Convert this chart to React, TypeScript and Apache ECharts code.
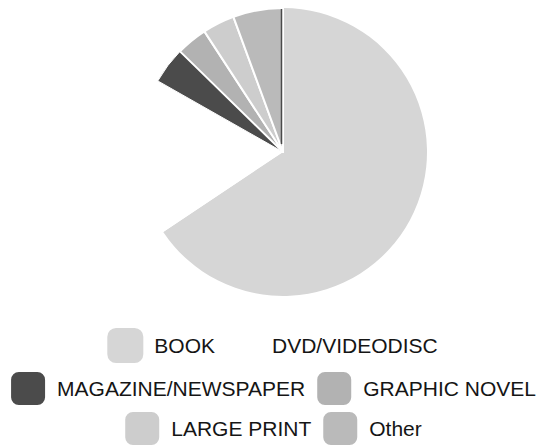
import React, { useEffect, useRef } from "react";
import * as echarts from "echarts";

const categories = ["BOOK", "DVD/VIDEODISC", "MAGAZINE/NEWSPAPER", "GRAPHIC NOVEL", "LARGE PRINT", "Other"];
const values = [657, 176, 41, 35, 36, 56];
const colors = ["#d6d6d6", "#ffffff", "#4b4b4b", "#b2b2b2", "#cdcdcd", "#bababa"];
const legendRows = [
  ["BOOK", "DVD/VIDEODISC"],
  ["MAGAZINE/NEWSPAPER", "GRAPHIC NOVEL"],
  ["LARGE PRINT", "Other"],
];
const legendTops = [323, 365, 405];

export default function App() {
  const ref = useRef<HTMLDivElement>(null);
  useEffect(() => {
    if (!ref.current) return;
    const chart = echarts.init(ref.current, null, { renderer: "svg" });
    const cx = 283;
    const cy = 152;
    const r = 144;
    chart.setOption({
      animation: false,
      backgroundColor: "#ffffff",
      legend: legendRows.map((row, i) => ({
        data: row,
        left: "center",
        top: legendTops[i],
        orient: "horizontal",
        icon: "roundRect",
        itemWidth: 36,
        itemHeight: 35,
        itemGap: 10,
        selectedMode: false,
        textStyle: {
          fontFamily: "'Liberation Sans', Arial, sans-serif",
          fontSize: 21,
          color: "#151515",
          padding: [0, 0, 0, 6],
        },
      })),
      series: [
        {
          type: "pie",
          center: [cx, cy],
          radius: r,
          startAngle: 90,
          clockwise: true,
          label: { show: false },
          labelLine: { show: false },
          emphasis: { disabled: true },
          data: categories.map((name, i) => ({
            name,
            value: values[i],
            itemStyle: {
              color: colors[i],
              borderColor: "#ffffff",
              borderWidth: i >= 3 ? 2 : i === 2 ? 1 : 0,
            },
          })),
        },
      ],
      graphic: [
        {
          type: "line",
          shape: { x1: cx - 1.5, y1: cy - r + 1, x2: cx - 1.5, y2: cy - 8 },
          style: { stroke: "#4a4a4a", lineWidth: 1.5 },
          z: 10,
        },
      ],
    });
    return () => chart.dispose();
  }, []);
  return (
    <div
      ref={ref}
      style={{ position: "fixed", left: 0, top: 0, width: 545, height: 448 }}
    />
  );
}
